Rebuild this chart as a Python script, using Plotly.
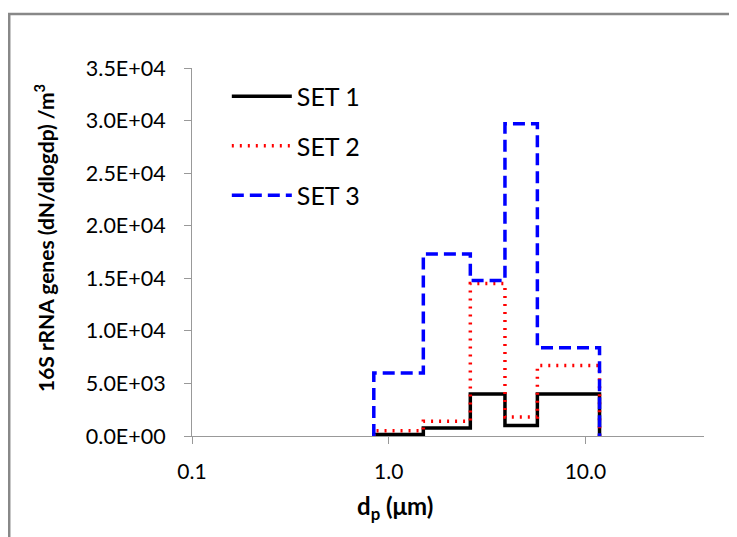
import plotly.graph_objects as go

# Size-bin edges (µm) and dN/dlogdp values per bin
edges = [0.84, 1.5, 2.6, 3.9, 5.7, 11.8]
set1 = [150, 750, 4000, 1000, 4000]
set2 = [500, 1400, 14500, 1800, 6700]
set3 = [6000, 17300, 14800, 29700, 8400]

series_names = ["SET 1", "SET 2", "SET 3"]
y_tickvals = [0, 5000, 10000, 15000, 20000, 25000, 30000, 35000]
y_ticktext = ["0.0E+00", "5.0E+03", "1.0E+04", "1.5E+04", "2.0E+04", "2.5E+04", "3.0E+04", "3.5E+04"]
x_tickvals = [0.1, 1.0, 10.0]
x_ticktext = ["0.1", "1.0", "10.0"]

FONT = "Lato, 'Open Sans', sans-serif"

def step_xy(vals):
    xs = [edges[0]] + edges
    ys = [0] + vals + [0]
    return xs, ys

styles = [
    dict(color="#000000", width=3.5, dash="solid"),
    dict(color="#ff0000", width=3.5, dash="2px,6px"),
    dict(color="#0000ff", width=3.5, dash="12px,6px"),
]

fig = go.Figure()
for name, vals, st in zip(series_names, [set1, set2, set3], styles):
    xs, ys = step_xy(vals)
    fig.add_trace(go.Scatter(
        x=xs, y=ys, mode="lines", name=name, line_shape="hv",
        line=st, legendgroup=name,
    ))

fig.update_layout(
    width=729, height=529,
    margin=dict(l=184, r=33, t=60, b=101),
    paper_bgcolor="white", plot_bgcolor="white",
    font=dict(family=FONT, size=21, color="black"),
    showlegend=True,
    legend=dict(
        x=0.068, y=0.985, xanchor="left", yanchor="top",
        bgcolor="rgba(0,0,0,0)", font=dict(size=25, family=FONT),
        tracegroupgap=14, itemwidth=60,
    ),
    xaxis=dict(
        type="log", range=[-1, 1.603],
        tickvals=x_tickvals, ticktext=x_ticktext,
        showgrid=False, zeroline=False,
        showline=True, linecolor="#999999", linewidth=1,
        ticks="outside", ticklen=7, tickcolor="#999999",
        tickfont=dict(size=21, family=FONT), ticklabelstandoff=10,
    ),
    yaxis=dict(
        range=[0, 35000],
        tickvals=y_tickvals, ticktext=y_ticktext,
        showgrid=False, zeroline=False,
        showline=True, linecolor="#999999", linewidth=1,
        ticks="outside", ticklen=7, tickcolor="#999999",
        tickfont=dict(size=21.5, family=FONT), ticklabelstandoff=14,
    ),
    annotations=[
        dict(text="<b>16S rRNA genes (dN/dlogdp) /m<sup>3</sup></b>", xref="paper", yref="paper",
             x=-0.289, y=0.538, xanchor="center", yanchor="middle", textangle=-90, showarrow=False,
             font=dict(size=21, family=FONT)),
        dict(text="<b>d<sub>p</sub> (\u03bcm)</b>", xref="paper", yref="paper",
             x=0.396, y=-0.194, xanchor="center", yanchor="middle", showarrow=False,
             font=dict(size=24, family=FONT)),
    ],
    shapes=[
        dict(type="rect", xref="paper", yref="paper",
             x0=-0.357, y0=-0.6, x1=1.3, y1=1.147,
             line=dict(color="#888888", width=2.5), layer="below"),
    ],
)

fig.write_html("out.html")
